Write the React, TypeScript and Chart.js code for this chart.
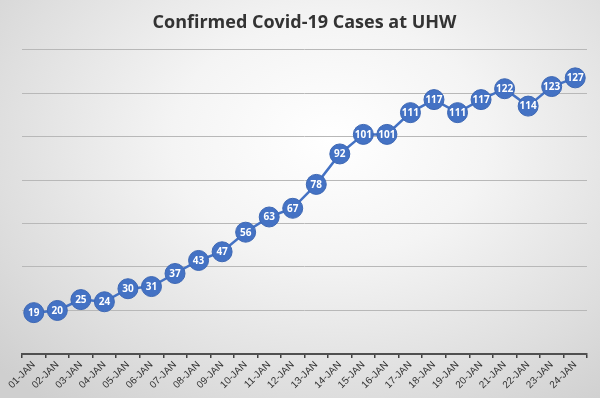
import React, { useEffect, useRef } from "react";
import { Chart, registerables } from "chart.js";

Chart.register(...registerables);

const categories = [
  "01-JAN", "02-JAN", "03-JAN", "04-JAN", "05-JAN", "06-JAN", "07-JAN", "08-JAN",
  "09-JAN", "10-JAN", "11-JAN", "12-JAN", "13-JAN", "14-JAN", "15-JAN", "16-JAN",
  "17-JAN", "18-JAN", "19-JAN", "20-JAN", "21-JAN", "22-JAN", "23-JAN", "24-JAN",
];
const cases = [19, 20, 25, 24, 30, 31, 37, 43, 47, 56, 63, 67, 78, 92, 101, 101, 111, 117, 111, 117, 122, 114, 123, 127];
const title = "Confirmed Covid-19 Cases at UHW";

const labelPlugin = {
  id: "pointLabels",
  afterDatasetsDraw(chart: any) {
    const ctx = chart.ctx;
    const meta = chart.getDatasetMeta(0);
    const data = chart.data.datasets[0].data;
    ctx.save();
    ctx.fillStyle = "#ffffff";
    ctx.font = "bold 10px 'Open Sans'";
    ctx.textAlign = "center";
    ctx.textBaseline = "middle";
    meta.data.forEach((pt: any, i: number) => {
      ctx.fillText(String(data[i]), pt.x, pt.y + 0.5);
    });
    ctx.restore();
  },
};

export default function App() {
  const ref = useRef<HTMLCanvasElement>(null);
  useEffect(() => {
    const chart = new Chart(ref.current!, {
      type: "line",
      data: {
        labels: categories,
        datasets: [
          {
            data: cases,
            borderColor: "#4472C4",
            borderWidth: 2.5,
            backgroundColor: "#4472C4",
            pointBackgroundColor: "#4472C4",
            pointBorderColor: "#3D67B3",
            pointBorderWidth: 1,
            pointRadius: 10,
            tension: 0,
          },
        ],
      },
      options: {
        animation: false,
        responsive: false,
        layout: { padding: { left: 22, right: 13, bottom: 6, top: 0 } },
        plugins: {
          legend: { display: false },
          tooltip: { enabled: false },
          title: {
            display: true,
            text: title,
            color: "#333333",
            font: { family: "'Open Sans'", size: 18, weight: "bold" },
            padding: { top: 12, bottom: 16 },
          },
        },
        scales: {
          x: {
            offset: true,
            grid: {
              display: true,
              drawOnChartArea: false,
              drawTicks: true,
              tickLength: 4,
              offset: true,
              color: "#404040",
              lineWidth: 1.5,
            },
            border: { display: true, color: "#505050", width: 2 },
            ticks: {
              autoSkip: false,
              minRotation: 45,
              maxRotation: 45,
              color: "#333333",
              padding: 1,
              font: { family: "'Liberation Sans'", size: 10 },
            },
          },
          y: {
            min: 0,
            max: 140,
            ticks: { display: false, stepSize: 20 },
            grid: { color: "#b8b8b8", lineWidth: 1, drawTicks: false },
            border: { display: false },
          },
        },
      },
      plugins: [labelPlugin],
    });
    return () => chart.destroy();
  }, []);
  return (
    <div
      style={{
        position: "absolute",
        left: 0,
        top: 0,
        width: 600,
        height: 398,
        background:
          "radial-gradient(ellipse 75% 85% at 55% 35%, #ffffff 0%, #f4f4f4 35%, #dedede 75%, #cfcfcf 100%)",
      }}
    >
      <canvas ref={ref} width={600} height={398} />
    </div>
  );
}
